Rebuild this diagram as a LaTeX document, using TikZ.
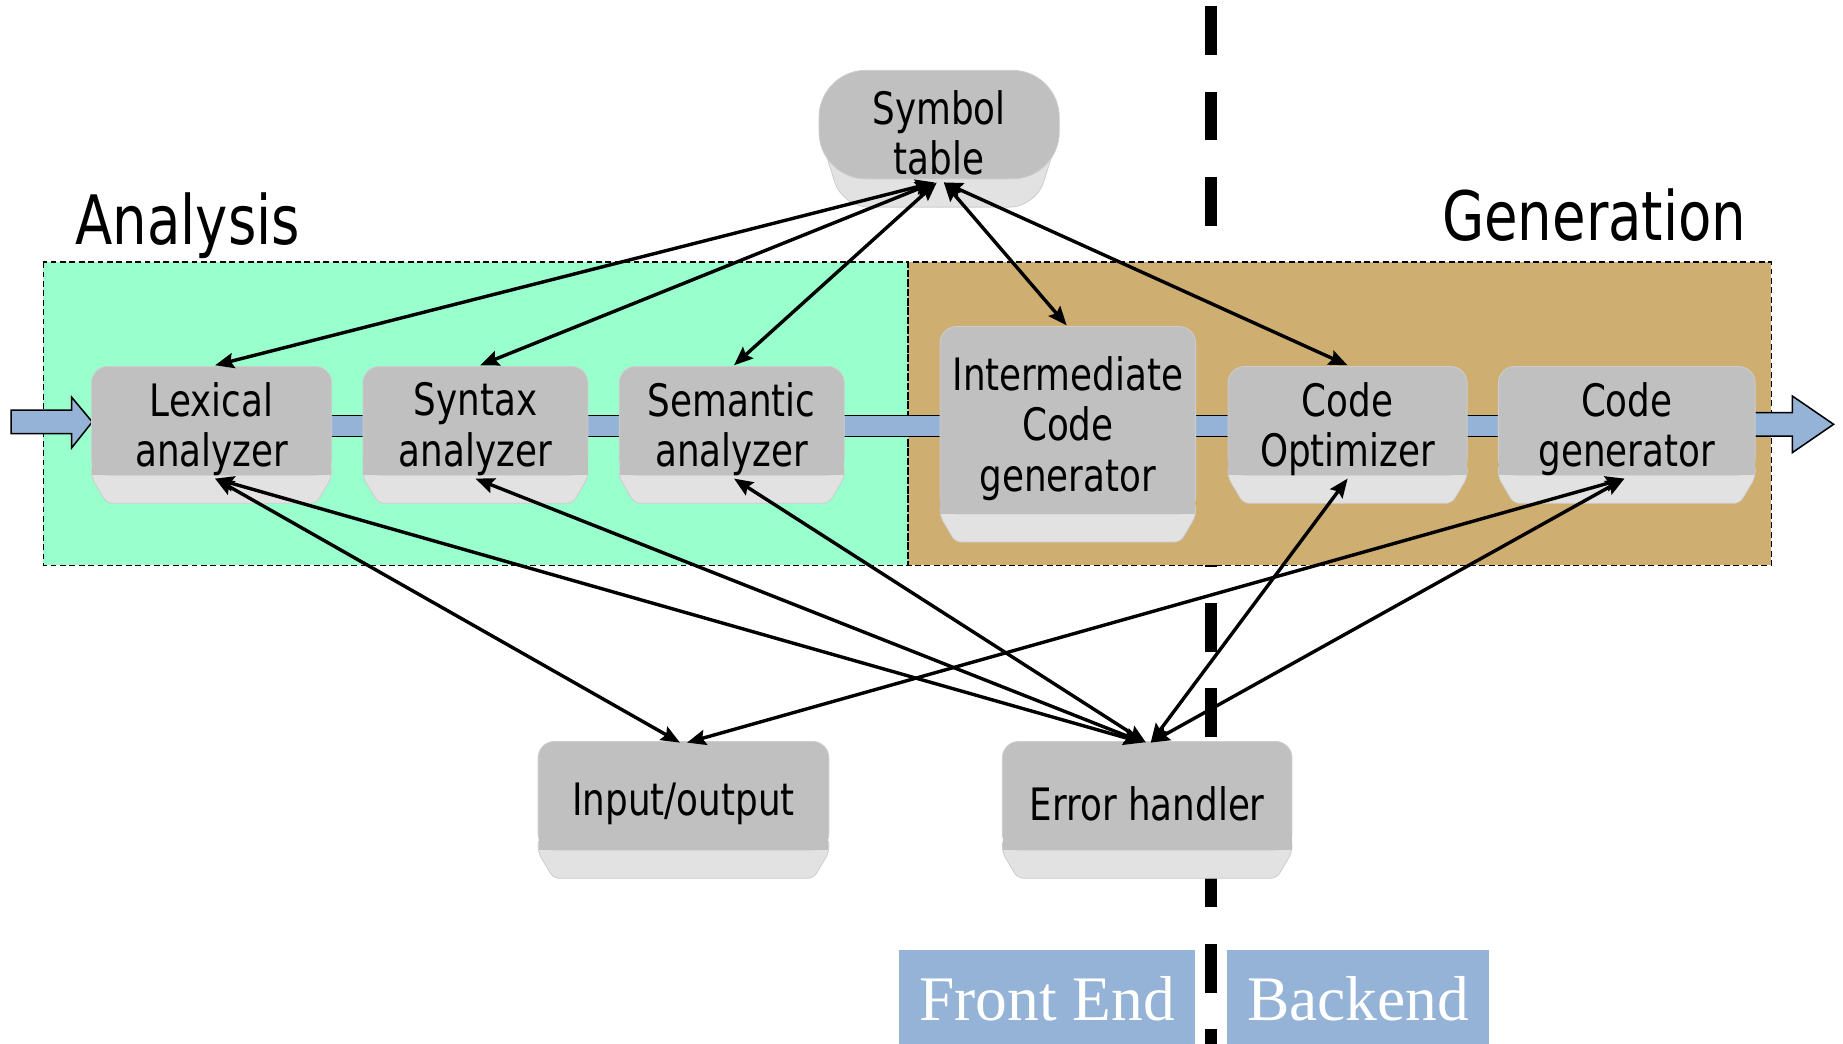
\documentclass[tikz,border=0pt]{standalone}
\usepackage{fontspec}
\setmainfont{DejaVu Sans}[FakeStretch=0.8]
\newfontfamily\labelserif{Liberation Serif}
\usetikzlibrary{arrows.meta}

\pgfdeclarelayer{back}
\pgfdeclarelayer{caps}
\pgfsetlayers{back,caps,main}

\definecolor{capgray}{HTML}{C0C0C0}
\definecolor{capfoot}{HTML}{E2E2E2}
\definecolor{capline}{HTML}{CDCDCD}
\definecolor{analysisfill}{HTML}{99FFCC}
\definecolor{genfill}{HTML}{CFAE72}
\definecolor{pipeblue}{HTML}{95B3D7}

\newcommand\capfont{\fontsize{38pt}{43pt}\selectfont}
\newcommand\headfont{\fontsize{58pt}{64pt}\selectfont}

% gray key-cap body: rounded top block over a lighter bevelled foot;
% the node reaches 14pt below the block, so its text sits a little low
\newcommand\keycap[1]{%
  \begin{pgfonlayer}{caps}
    \filldraw[capfoot, draw=capline, line width=0.7pt, rounded corners=5pt]
      ([yshift=24pt]#1.south west) -- ([yshift=12pt]#1.south west)
      -- ([xshift=13pt,yshift=-10pt]#1.south west)
      -- ([xshift=-13pt,yshift=-10pt]#1.south east)
      -- ([yshift=12pt]#1.south east) -- ([yshift=24pt]#1.south east) -- cycle;
    \filldraw[capgray, draw=capline, line width=0.7pt, rounded corners=14pt]
      ([yshift=14pt]#1.south west) rectangle (#1.north east);
    \fill[capgray] ([xshift=0.35pt,yshift=14pt]#1.south west) rectangle ([xshift=-0.35pt,yshift=30pt]#1.south east);
  \end{pgfonlayer}}

% rounded variant for the symbol table
\newcommand\roundcap[1]{%
  \begin{pgfonlayer}{caps}
    \filldraw[capfoot, draw=capline, line width=0.7pt, rounded corners=22pt]
      ([yshift=54pt]#1.south west)
      -- ([xshift=20pt,yshift=-10pt]#1.south west)
      -- ([xshift=-20pt,yshift=-10pt]#1.south east)
      -- ([yshift=54pt]#1.south east) -- cycle;
    \filldraw[capgray, draw=capline, line width=0.7pt, rounded corners=40pt]
      ([yshift=14pt]#1.south west) rectangle (#1.north east);
  \end{pgfonlayer}}

\tikzset{
  keynode/.style={inner sep=0pt, minimum height=106pt, align=center, font=\capfont, text=black},
  region/.style={draw=black, line width=1.1pt, dash pattern=on 5pt off 3pt},
  link/.style={line width=2.9pt, draw=black,
    arrows={Stealth[length=16pt,width=13pt,inset=2.5pt]-Stealth[length=16pt,width=13pt,inset=2.5pt]}},
  endlabel/.style={fill=pipeblue, inner sep=0pt, text=white,
    font=\labelserif\fontsize{54pt}{60pt}\selectfont},
  heading/.style={inner sep=0pt, font=\headfont}
}

\begin{document}
\begin{tikzpicture}[x=1pt, y=-1pt]
\useasboundingbox (0,0) rectangle (1568,887.4);

% front end / backend divider
\begin{pgfonlayer}{back}
  \draw[line width=10pt, dash pattern=on 41.5pt off 31pt] (1030,5.5) -- (1030,900);
  % analysis and generation regions
  \fill[analysisfill] (37,223) rectangle (772.5,481);
  \fill[genfill] (772.5,223) rectangle (1507,481);
  \draw[region] (37,223) rectangle (772.5,481);
  \draw[region] (772.5,223) rectangle (1507,481);
  % pipeline band with input and output arrows
  \filldraw[fill=pipeblue, draw=black, line width=1.3pt] (250,353.5) rectangle (1500,371.5);
  \filldraw[fill=pipeblue, draw=black, line width=1.3pt]
    (9.5,349) -- (61,349) -- (61,338) -- (78.5,359) -- (61,381) -- (61,369) -- (9.5,369) -- cycle;
  \filldraw[fill=pipeblue, draw=black, line width=1.3pt]
    (1490,351) -- (1525,351) -- (1525,337) -- (1560,361) -- (1525,385) -- (1525,371) -- (1490,371) -- cycle;
\end{pgfonlayer}

% headings
\node[heading, anchor=base west] (analysis) at (64,208) {Analysis};
\node[heading, anchor=base east] (generation) at (1486,205) {Generation};

% phases
\node[keynode, minimum width=204pt] (lex) at (180,365) {Lexical\\analyzer};
\node[keynode, minimum width=191pt] (syn) at (404.5,365) {Syntax\\analyzer};
\node[keynode, minimum width=191pt] (sem) at (622.5,365) {Semantic\\analyzer};
\node[keynode, minimum width=217pt, minimum height=173pt] (inter) at (908.5,364.5) {Intermediate\\Code\\generator};
\node[keynode, minimum width=203pt] (opt) at (1146.5,365) {Code\\Optimizer};
\node[keynode, minimum width=218pt] (cgen) at (1384,365) {Code\\generator};

% shared services
\node[keynode, minimum width=204pt] (sym) at (799,113) {Symbol\\table};
\node[keynode, minimum width=247pt] (io) at (581.5,684) {Input/output};
\node[keynode, minimum width=246pt] (err) at (976,684) {Error handler};

\keycap{lex}\keycap{syn}\keycap{sem}\keycap{inter}\keycap{opt}\keycap{cgen}
\keycap{io}\keycap{err}
\roundcap{sym}

% front end / backend labels
\node[endlabel, minimum width=252pt, minimum height=84pt] (front) at (891,850) {Front End};
\node[endlabel, minimum width=223pt, minimum height=84pt] (back) at (1155.5,850) {Backend};

% symbol table links
\draw[link] ([xshift=-4pt,yshift=11pt]sym.south) -- ([xshift=3pt,yshift=1pt]lex.north);
\draw[link] ([xshift=-4pt,yshift=11pt]sym.south) -- ([xshift=4pt,yshift=1pt]syn.north);
\draw[link] ([xshift=-2pt,yshift=11pt]sym.south) -- ([xshift=2pt,yshift=1pt]sem.north);
\draw[link] ([xshift=4pt,yshift=11pt]sym.south) -- ([xshift=-1pt,yshift=1pt]inter.north);
\draw[link] ([xshift=4pt,yshift=11pt]sym.south) -- ([yshift=1pt]opt.north);

% error handler links
\draw[link] ([xshift=3pt,yshift=11pt]lex.south) -- ([xshift=-4pt,yshift=-1pt]err.north);
\draw[link] ([yshift=11pt]syn.south) -- ([xshift=-3pt,yshift=-1pt]err.north);
\draw[link] ([xshift=2pt,yshift=11pt]sem.south) -- ([xshift=-1pt,yshift=-1pt]err.north);
\draw[link] ([yshift=11pt]opt.south) -- ([xshift=3pt,yshift=-1pt]err.north);
\draw[link] ([xshift=-2pt,yshift=11pt]cgen.south) -- ([xshift=3pt,yshift=-1pt]err.north);

% input/output links
\draw[link] ([xshift=3pt,yshift=11pt]lex.south) -- ([xshift=-3pt,yshift=-1pt]io.north);
\draw[link] ([xshift=-2pt,yshift=11pt]cgen.south) -- ([xshift=3pt,yshift=-1pt]io.north);
\end{tikzpicture}
\end{document}
